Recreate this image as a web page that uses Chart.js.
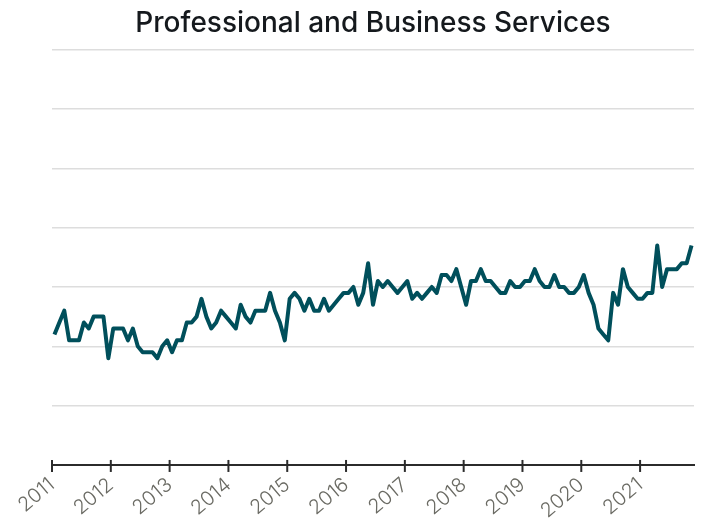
<!DOCTYPE html>
<html>
<head>
<meta charset="utf-8">
<script src="https://cdn.jsdelivr.net/npm/chart.js@4/dist/chart.umd.min.js"></script>
<style>
  html, body { margin: 0; padding: 0; background: #fff; }
  #wrap { width: 715px; height: 524px; position: relative; }
</style>
</head>
<body>
<div id="wrap"><canvas id="grafica"></canvas></div>
<script>
const titol = 'Professional and Business Services';
const anyInici = 2011;
const anysEtiquetes = [2011, 2012, 2013, 2014, 2015, 2016, 2017, 2018, 2019, 2020, 2021];

// valors mensuals, gener 2011 - novembre 2021
const valors = [
    2.2, 2.4, 2.6, 2.1, 2.1, 2.1, 2.4, 2.3, 2.5, 2.5, 2.5, 1.8, // 2011
    2.3, 2.3, 2.3, 2.1, 2.3, 2.0, 1.9, 1.9, 1.9, 1.8, 2.0, 2.1, // 2012
    1.9, 2.1, 2.1, 2.4, 2.4, 2.5, 2.8, 2.5, 2.3, 2.4, 2.6, 2.5, // 2013
    2.4, 2.3, 2.7, 2.5, 2.4, 2.6, 2.6, 2.6, 2.9, 2.6, 2.4, 2.1, // 2014
    2.8, 2.9, 2.8, 2.6, 2.8, 2.6, 2.6, 2.8, 2.6, 2.7, 2.8, 2.9, // 2015
    2.9, 3.0, 2.7, 2.9, 3.4, 2.7, 3.1, 3.0, 3.1, 3.0, 2.9, 3.0, // 2016
    3.1, 2.8, 2.9, 2.8, 2.9, 3.0, 2.9, 3.2, 3.2, 3.1, 3.3, 3.0, // 2017
    2.7, 3.1, 3.1, 3.3, 3.1, 3.1, 3.0, 2.9, 2.9, 3.1, 3.0, 3.0, // 2018
    3.1, 3.1, 3.3, 3.1, 3.0, 3.0, 3.2, 3.0, 3.0, 2.9, 2.9, 3.0, // 2019
    3.2, 2.9, 2.7, 2.3, 2.2, 2.1, 2.9, 2.7, 3.3, 3.0, 2.9, 2.8, // 2020
    2.8, 2.9, 2.9, 3.7, 3.0, 3.3, 3.3, 3.3, 3.4, 3.4, 3.7       // 2021
];

// cada valor al mig del seu mes
const punts = valors.map((v, i) => ({ x: anyInici + (i + 0.5) / 12, y: v }));

// marques de l'eix x que creuen la linia
const marquesEix = {
    id: 'marquesEix',
    afterDraw(chart) {
        const escala = chart.scales.x;
        const y = chart.chartArea.bottom;
        const ctx = chart.ctx;
        ctx.save();
        ctx.strokeStyle = '#2b2b2b';
        ctx.lineWidth = 2;
        escala.ticks.forEach(t => {
            const x = escala.getPixelForValue(t.value);
            ctx.beginPath();
            ctx.moveTo(x, y - 5);
            ctx.lineTo(x, y + 7);
            ctx.stroke();
        });
        ctx.restore();
    }
};

new Chart(document.getElementById('grafica'), {
    type: 'line',
    data: {
        datasets: [{
            data: punts,
            borderColor: '#004f5b',
            borderWidth: 4,
            borderJoinStyle: 'round',
            pointRadius: 0,
            tension: 0,
            fill: false
        }]
    },
    options: {
        responsive: true,
        maintainAspectRatio: false,
        animation: false,
        layout: { padding: { left: 52, right: 21, top: 0, bottom: 0 } },
        scales: {
            x: {
                type: 'linear',
                min: anyInici,
                max: anyInici + valors.length / 12,
                afterBuildTicks: s => {
                    s.ticks = anysEtiquetes.map(a => ({ value: a }));
                },
                ticks: {
                    callback: v => String(v),
                    minRotation: 40,
                    maxRotation: 40,
                    color: '#6a6a63',
                    padding: 1,
                    font: { family: 'Inter', size: 20, weight: 300 }
                },
                grid: { drawOnChartArea: false, drawTicks: true, tickLength: 7, color: 'rgba(0,0,0,0)' },
                border: { display: true, color: '#2b2b2b', width: 2 }
            },
            y: {
                min: 0,
                max: 7,
                ticks: { display: false, stepSize: 1 },
                grid: { color: '#dddddd', lineWidth: 1.5, drawTicks: false },
                border: { display: false }
            }
        },
        plugins: {
            legend: { display: false },
            tooltip: { enabled: false },
            title: {
                display: true,
                text: titol,
                color: '#15191d',
                font: { family: 'Inter', size: 28, weight: 500 },
                padding: { top: 7, bottom: 9 }
            }
        }
    },
    plugins: [marquesEix]
});
</script>
</body>
</html>
